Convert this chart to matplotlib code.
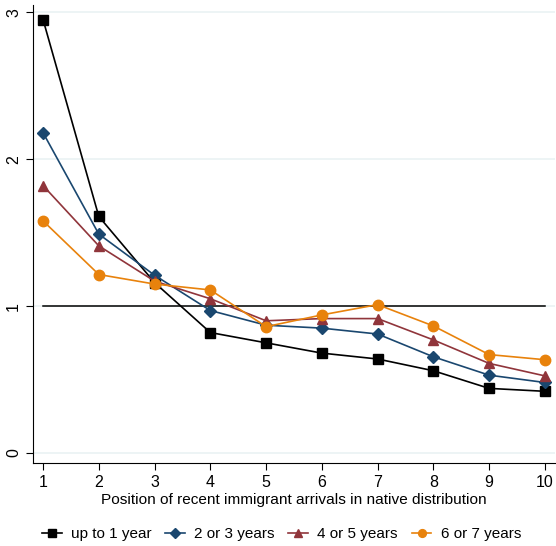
import numpy as np
import matplotlib.pyplot as plt

plt.rcParams['font.family'] = ['Liberation Sans', 'DejaVu Sans']

position = [1, 2, 3, 4, 5, 6, 7, 8, 9, 10]
up_to_1 = [2.95, 1.61, 1.16, 0.82, 0.75, 0.68, 0.64, 0.56, 0.44, 0.42]
y2_3 = [2.18, 1.49, 1.21, 0.97, 0.87, 0.85, 0.81, 0.655, 0.53, 0.48]
y4_5 = [1.82, 1.41, 1.17, 1.05, 0.90, 0.915, 0.915, 0.77, 0.61, 0.525]
y6_7 = [1.58, 1.215, 1.15, 1.11, 0.86, 0.94, 1.01, 0.865, 0.67, 0.635]
labels = ["up to 1 year", "2 or 3 years", "4 or 5 years", "6 or 7 years"]

fig = plt.figure(figsize=(5.56, 5.46), dpi=100)
ax = fig.add_axes([0.0594, 0.152, 0.9386, 0.839])

for yv in [0, 1, 2, 3]:
    ax.axhline(yv, color="#eaf2f3", lw=1.2, zorder=0)
ax.plot([1, 10], [1, 1], color="black", lw=1.1, zorder=1)

series = [up_to_1, y2_3, y4_5, y6_7]
colors = ["black", "#1a476f", "#90353b", "#e8820c"]
markers = ["s", "D", "^", "o"]
msizes = [7, 6.5, 7.5, 7.5]
for vals, c, m, ms, lab in zip(series, colors, markers, msizes, labels):
    ax.plot(position, vals, color=c, marker=m, markersize=ms, lw=1.2, label=lab, zorder=3)

ax.set_xlim(0.82, 10.18)
ax.set_ylim(-0.068, 3.05)
ax.set_xticks(position)
ax.set_yticks([0, 1, 2, 3])
ax.set_yticklabels(["0", "1", "2", "3"], rotation=90, va="center")
ax.tick_params(labelsize=11.5, length=5, color="black")
ax.spines["top"].set_visible(False)
ax.spines["right"].set_visible(False)
ax.set_xlabel("Position of recent immigrant arrivals in native distribution", fontsize=11.1, labelpad=2)

fig.legend(loc="center", bbox_to_anchor=(0.506, 0.022), ncol=4, frameon=False,
           fontsize=11, handlelength=1.3, columnspacing=0.9, handletextpad=0.6, markerscale=0.75)

fig.savefig("out.png", dpi=100)
